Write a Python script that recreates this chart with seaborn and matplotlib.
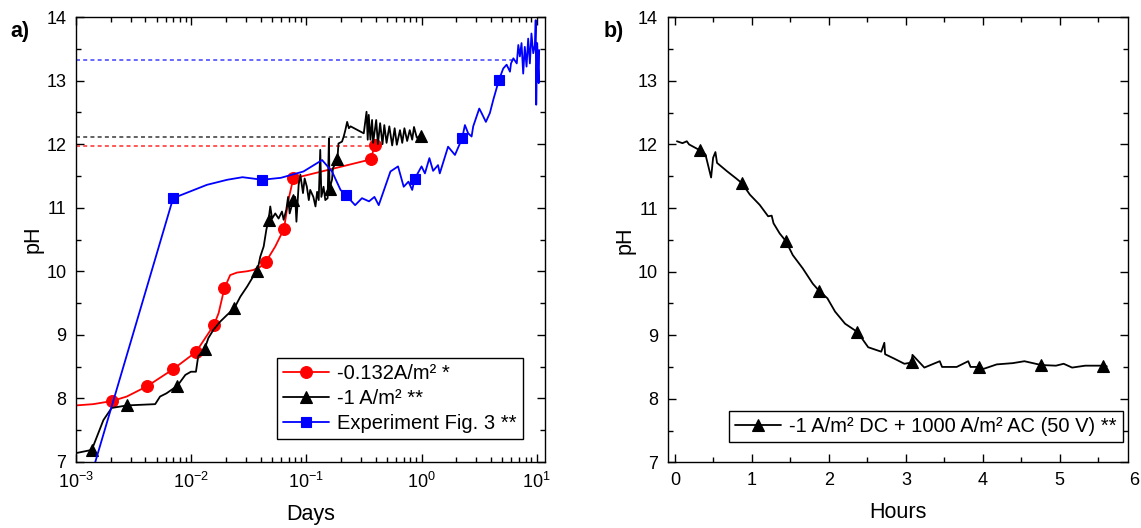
import numpy as np
import matplotlib
matplotlib.use("Agg")
import matplotlib.pyplot as plt
from matplotlib.ticker import MultipleLocator, LogLocator, NullFormatter
import seaborn as sns

# ---------------- panel a) : pH vs time (days, log scale) ----------------
red_label = "-0.132A/m² *"
red_days = [0.001, 0.00141, 0.00207, 0.00276, 0.00413, 0.00697, 0.011, 0.0157,
            0.0173, 0.0194, 0.0218, 0.025, 0.0305, 0.0346, 0.0398, 0.0442,
            0.0537, 0.0640, 0.0698, 0.0770, 0.362, 0.394]
red_ph = [7.89, 7.91, 7.96, 8.03, 8.19, 8.46, 8.73, 9.15,
          9.34, 9.73, 9.94, 9.98, 10.00, 10.02, 10.07, 10.14,
          10.39, 10.67, 11.12, 11.46, 11.76, 11.99]
red_marks = [2, 4, 5, 6, 7, 9, 15, 17, 19, 20, 21]

black_label = "-1 A/m² **"
black_days = [0.001, 0.00137, 0.00173, 0.00204, 0.00277, 0.00487, 0.00537, 0.0061,
              0.0076, 0.0089, 0.00995, 0.011, 0.0115, 0.0131, 0.0141, 0.0156,
              0.0179, 0.0204, 0.0237, 0.0267, 0.0306, 0.0338, 0.0376, 0.0398,
              0.0426, 0.0449, 0.047, 0.0486, 0.0504, 0.0537, 0.0574, 0.0614,
              0.0635, 0.067, 0.0694, 0.0716, 0.077, 0.080, 0.082, 0.0857,
              0.0887, 0.0935, 0.0966, 0.101, 0.105, 0.108, 0.115, 0.120,
              0.124, 0.128, 0.132, 0.135, 0.141, 0.146, 0.153, 0.157,
              0.159, 0.167, 0.170, 0.186, 0.190, 0.204, 0.211, 0.218,
              0.226, 0.234, 0.242, 0.315, 0.333, 0.341, 0.348, 0.360,
              0.372, 0.380, 0.404, 0.418, 0.437, 0.458, 0.475, 0.497,
              0.525, 0.556, 0.584, 0.610, 0.650, 0.680, 0.710, 0.750,
              0.790, 0.830, 0.860, 0.910, 0.980]
black_ph = [7.14, 7.19, 7.66, 7.85, 7.89, 7.91, 8.03, 8.08,
            8.20, 8.37, 8.42, 8.42, 8.66, 8.78, 8.95, 9.08,
            9.21, 9.31, 9.42, 9.60, 9.76, 9.89, 10.01, 10.23,
            10.39, 10.65, 10.81, 11.02, 10.83, 10.91, 10.83, 10.94,
            10.81, 10.97, 11.17, 10.91, 11.12, 11.17, 10.78, 11.36,
            11.52, 11.23, 11.46, 11.33, 11.12, 11.28, 11.17, 11.02,
            11.25, 11.12, 11.91, 11.17, 11.33, 11.12, 11.15, 12.09,
            11.30, 11.44, 11.62, 11.76, 12.01, 12.04, 12.12, 12.22,
            12.35, 12.25, 12.28, 12.17, 12.51, 12.07, 12.46, 12.07,
            12.38, 12.02, 12.38, 12.00, 12.33, 12.00, 12.30, 12.02,
            12.28, 11.98, 12.25, 11.99, 12.22, 12.02, 12.25, 12.05,
            12.22, 12.07, 12.27, 12.10, 12.13]
black_marks = [1, 4, 8, 13, 18, 22, 26, 36, 56, 59, 92]

blue_label = "Experiment Fig. 3 **"
blue_days = [0.00147, 0.00697, 0.0137, 0.0206, 0.0279, 0.0414, 0.060, 0.0944,
             0.137, 0.167, 0.198, 0.220, 0.265, 0.304, 0.350, 0.390,
             0.425, 0.537, 0.625, 0.700, 0.770, 0.830, 0.870, 1.00,
             1.07, 1.17, 1.26, 1.39, 1.44, 1.70, 1.95, 2.25,
             2.38, 2.54, 2.72, 2.81, 3.17, 3.32, 3.62, 3.92,
             4.20, 4.70, 5.12, 5.48, 5.86, 5.98, 6.27, 6.71,
             6.92, 7.14, 7.38, 7.63, 7.88, 8.16, 8.43, 8.72,
             9.00, 9.33, 9.65, 9.80, 9.90, 10.1, 10.4, 10.5]
blue_ph = [7.00, 11.15, 11.36, 11.44, 11.48, 11.44, 11.47, 11.57,
           11.75, 11.57, 11.28, 11.20, 11.04, 11.15, 11.10, 11.17,
           11.04, 11.57, 11.65, 11.33, 11.41, 11.28, 11.45, 11.65,
           11.54, 11.78, 11.58, 11.67, 11.54, 11.96, 11.83, 12.09,
           12.30, 12.17, 12.12, 12.28, 12.56, 12.49, 12.35, 12.49,
           12.70, 13.01, 13.19, 13.25, 13.14, 13.27, 13.35, 13.27,
           13.56, 13.38, 13.59, 13.11, 13.53, 13.22, 13.66, 13.27,
           13.74, 13.43, 13.56, 13.95, 12.62, 13.59, 12.96, 13.48]
blue_marks = [1, 5, 11, 22, 31, 41]

# final pH levels (dotted guides) and where each guide stops
level_ph = [13.33, 12.12, 11.97]
level_end_days = [6.3, 0.31, 0.37]
level_colors = ["#5c5cff", "#555555", "#ff4a4a"]

# ---------------- panel b) : pH vs time (hours) ----------------
ac_label = "-1 A/m² DC + 1000 A/m² AC (50 V) **"
ac_hours = [0.025, 0.097, 0.153, 0.183, 0.32, 0.396, 0.469, 0.495,
            0.525, 0.546, 0.674, 0.80, 0.87, 0.973, 1.10, 1.21,
            1.256, 1.28, 1.36, 1.44, 1.53, 1.66, 1.79, 1.87,
            1.98, 2.08, 2.21, 2.37, 2.51, 2.68, 2.72, 2.73,
            2.85, 2.98, 3.08, 3.085, 3.24, 3.44, 3.47, 3.66,
            3.81, 3.84, 3.95, 4.01, 4.18, 4.39, 4.54, 4.76,
            4.95, 5.05, 5.16, 5.33, 5.56, 5.61]
ac_ph = [12.05, 12.02, 12.05, 12.00, 11.91, 11.84, 11.48, 11.79,
         11.88, 11.71, 11.58, 11.46, 11.39, 11.21, 11.05, 10.87,
         10.88, 10.76, 10.60, 10.48, 10.26, 10.05, 9.81, 9.70,
         9.58, 9.37, 9.18, 9.05, 8.81, 8.74, 8.88, 8.70,
         8.63, 8.55, 8.57, 8.69, 8.49, 8.59, 8.50, 8.50,
         8.59, 8.50, 8.50, 8.47, 8.54, 8.56, 8.59, 8.53,
         8.52, 8.55, 8.49, 8.52, 8.52, 8.51]
ac_marks = [4, 12, 19, 23, 27, 34, 42, 47, 52]

hour_ticks = [0, 1, 2, 3, 4, 5, 6]
ph_ticks = [7, 8, 9, 10, 11, 12, 13, 14]

# ---------------- style ----------------
sns.set_theme(style="ticks")
plt.rcParams["font.family"] = ["Liberation Sans", "DejaVu Sans"]
plt.rcParams["mathtext.fontset"] = "custom"
plt.rcParams["mathtext.rm"] = "Liberation Sans"
plt.rcParams["mathtext.default"] = "regular"
plt.rcParams["axes.linewidth"] = 1.0
plt.rcParams["axes.edgecolor"] = "black"
for key in ("text.color", "axes.labelcolor", "xtick.color", "ytick.color"):
    plt.rcParams[key] = "black"

TICK_FS = 13
LABEL_FS = 15.5
LEGEND_FS = 14.5

W, H = 1141, 528
fig = plt.figure(figsize=(W / 100, H / 100), dpi=100)
ax1 = fig.add_axes([76 / W, 1 - 462 / H, (545 - 76) / W, (462 - 17) / H])
ax2 = fig.add_axes([667.7 / W, 1 - 462.3 / H, (1128.3 - 667.7) / W, 445 / H])

ax1.set_xscale("log")


def draw_series(ax, x, y, marks, color, marker, ms, label):
    sns.lineplot(x=x, y=y, ax=ax, sort=False, estimator=None, color=color,
                 linewidth=1.3, marker=marker, markersize=ms, markevery=marks,
                 markeredgecolor=color, markerfacecolor=color,
                 markeredgewidth=0.8, label=label, legend=False)


for lvl, end, col in zip(level_ph, level_end_days, level_colors):
    ax1.hlines(lvl, 1e-3, end, colors=col, linestyles=(0, (2.2, 1.8)),
               linewidth=1.3, zorder=1)

draw_series(ax1, red_days, red_ph, red_marks, "#ff0000", "o", 8.5, red_label)
draw_series(ax1, black_days, black_ph, black_marks, "black", "^", 8.5, black_label)
draw_series(ax1, blue_days, blue_ph, blue_marks, "#0000ff", "s", 7.0, blue_label)

draw_series(ax2, ac_hours, ac_ph, ac_marks, "black", "^", 8.5, ac_label)

# axes ranges and ticks
ax1.set_xlim(1e-3, 11.8)
ax1.xaxis.set_major_locator(LogLocator(base=10, numticks=10))
ax1.xaxis.set_minor_locator(LogLocator(base=10, subs=np.arange(2, 10), numticks=20))
ax1.xaxis.set_minor_formatter(NullFormatter())

ax2.set_xlim(-0.095, 5.89)
ax2.set_xticks(hour_ticks[:-1])
ax2.xaxis.set_minor_locator(MultipleLocator(0.5))
# the last hour label sits just past the frame edge
ax2.annotate(str(hour_ticks[-1]), xy=(hour_ticks[-1], 0),
             xycoords=("data", "axes fraction"), xytext=(-2, -7),
             textcoords="offset points", ha="center", va="top",
             fontsize=TICK_FS, annotation_clip=False)

for ax in (ax1, ax2):
    ax.set_ylim(7, 14)
    ax.set_yticks(ph_ticks)
    ax.yaxis.set_minor_locator(MultipleLocator(0.5))
    ax.tick_params(which="both", direction="in", top=True, right=True,
                   width=1.0, color="black", labelsize=TICK_FS, pad=7)
    ax.tick_params(which="major", length=6)
    ax.tick_params(which="minor", length=3.5)
    ax.set_ylabel("pH", fontsize=LABEL_FS, labelpad=2)
    for sp in ax.spines.values():
        sp.set_visible(True)
        sp.set_color("black")

ax1.set_xlabel("Days", fontsize=LABEL_FS, labelpad=9)
ax2.set_xlabel("Hours", fontsize=LABEL_FS, labelpad=9)

leg_kw = dict(loc="lower right", borderaxespad=0, frameon=True, fancybox=False,
              edgecolor="black", framealpha=1, fontsize=LEGEND_FS,
              handlelength=2.3, handletextpad=0.4, borderpad=0.3,
              labelspacing=0.3)
l1 = ax1.legend(bbox_to_anchor=(0.9525, 0.051), **leg_kw)
l2 = ax2.legend(bbox_to_anchor=(0.9885, 0.045), **leg_kw)
for lg in (l1, l2):
    lg.get_frame().set_linewidth(1.0)

fig.text(20 / W, 1 - 32 / H, "a)", fontsize=15.5, fontweight="bold",
         ha="center", va="center")
fig.text(614 / W, 1 - 32 / H, "b)", fontsize=15.5, fontweight="bold",
         ha="center", va="center")

fig.savefig("out.png", dpi=100)
